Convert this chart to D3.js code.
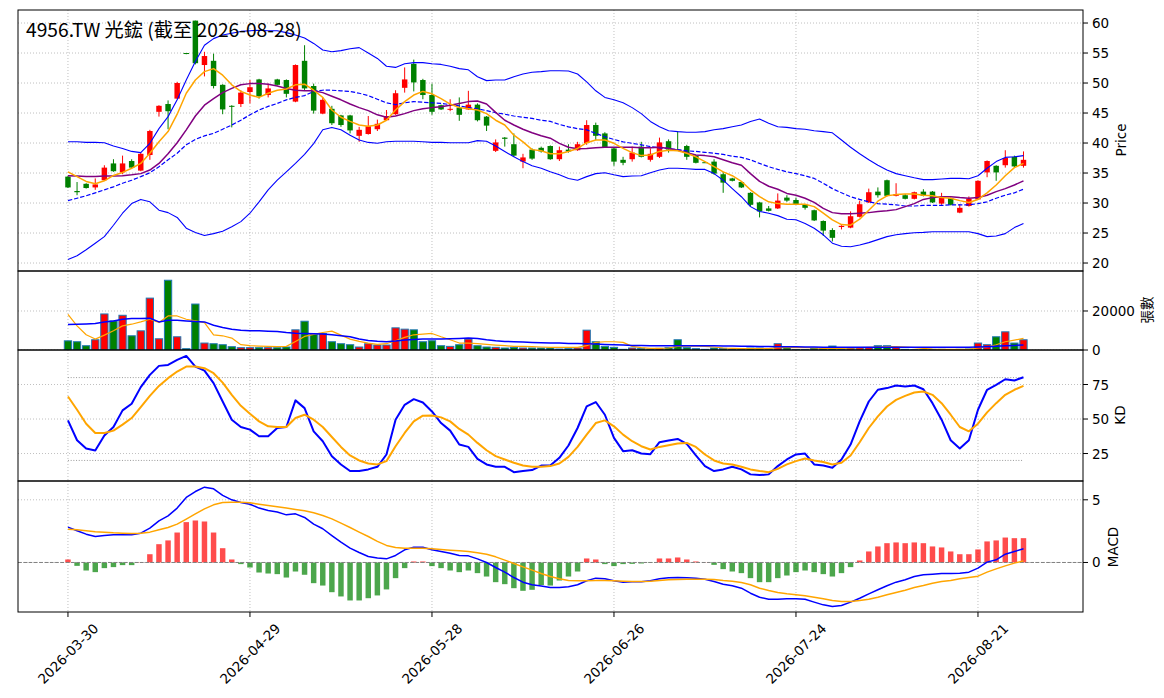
<!DOCTYPE html>
<html><head><meta charset="utf-8">
<script src="https://cdn.jsdelivr.net/npm/d3@7"></script>
<style>body{margin:0;background:#fff}svg{display:block}</style>
</head><body><svg id="c" width="1164" height="698"></svg>
<script>
// ---------------- data ----------------
const titleText = "4956.TW 光鋐 (截至 2026-08-28)";
const firstDay = "2026-03-30", lastDay = "2026-08-28";
const holidays = ["2026-04-03","2026-04-06","2026-05-01","2026-06-19"];
const tickLabels = ["2026-03-30","2026-04-29","2026-05-28","2026-06-26","2026-07-24","2026-08-21"];
const priceTicks = [20,25,30,35,40,45,50,55,60];
const volTicks = [0,20000];
const kdTicks = [25,50,75];
const macdTicks = [0,5];
const kdRefLevels = [20,80];

const openP = [34.4,32.0,33.2,32.6,33.8,36.6,35.1,37.0,35.4,38.0,
45.2,46.5,47.4,55.0,60.4,53.0,53.7,49.7,46.2,46.5,
48.5,50.6,48.0,50.6,50.5,46.9,53.7,49.5,44.9,45.7,
44.6,44.6,41.2,41.5,42.3,43.8,44.8,49.2,53.2,50.5,
48.0,46.3,45.6,45.9,45.6,46.4,44.4,38.7,40.9,39.8,
36.9,38.9,39.2,39.5,37.3,38.9,38.8,40.0,43.0,41.6,
39.1,37.2,37.3,39.4,37.2,37.7,40.3,38.9,39.5,37.9,
36.8,36.9,34.8,34.1,33.5,31.7,30.1,29.1,29.1,30.9,
30.5,29.7,28.8,27.0,25.5,26.0,25.9,27.7,30.1,31.9,
33.8,31.2,31.3,30.7,31.9,31.9,29.9,30.8,28.4,29.5,
30.6,35.1,36.2,36.3,37.7,36.2];
const highP = [34.5,33.5,33.3,34.1,36.3,37.3,37.9,37.3,38.4,42.2,
46.3,47.1,50.2,55.0,60.4,55.2,54.9,49.8,46.3,48.8,
50.5,50.7,49.9,50.7,50.6,53.1,56.3,49.9,47.6,46.2,
44.7,44.7,42.7,44.5,43.9,45.5,48.8,52.6,53.9,50.7,
49.9,46.4,47.3,47.6,48.7,46.6,44.5,40.6,41.0,41.6,
38.2,39.1,39.4,39.6,39.4,39.8,40.2,43.8,43.4,41.8,
39.2,37.7,39.4,40.2,39.1,40.9,40.6,42.0,39.7,38.0,
36.8,37.3,35.2,34.2,33.6,31.8,30.2,29.5,31.6,31.3,
30.9,29.8,28.9,27.1,25.8,26.3,28.6,30.4,32.4,32.6,
33.9,33.3,31.5,31.9,32.3,32.0,31.7,30.9,29.8,31.1,
33.8,37.1,36.3,38.8,37.9,38.6];
const lowP = [32.5,31.3,32.4,32.2,33.7,35.2,34.8,35.8,35.3,37.2,
44.4,42.3,47.3,54.8,53.1,51.1,49.1,44.8,42.6,46.0,
46.6,47.4,47.6,49.6,47.6,46.8,48.8,44.9,44.8,43.0,
42.7,41.6,40.2,41.4,42.0,43.7,44.7,48.4,48.6,47.3,
44.7,45.5,45.3,43.7,45.5,43.6,42.0,38.5,39.4,37.7,
35.8,37.2,38.4,37.2,37.0,38.4,38.7,39.7,40.5,39.2,
36.2,36.3,36.9,37.6,36.9,37.5,38.4,38.7,37.2,36.6,
36.7,34.7,31.7,33.6,32.5,29.4,27.6,28.6,29.0,30.2,
29.7,28.9,27.0,24.5,23.6,25.6,25.8,27.6,30.0,30.9,
31.1,31.1,30.6,30.6,31.1,30.0,29.7,29.6,28.3,29.4,
30.5,34.3,33.7,35.9,36.0,35.9];
const closeP = [32.6,31.8,32.5,33.1,35.9,35.3,36.6,35.9,38.2,42.0,
46.2,45.3,50.0,54.9,53.3,54.5,49.5,45.6,46.1,48.4,
49.3,47.8,49.1,49.7,48.2,53.0,49.1,45.4,47.2,43.3,
43.0,42.1,42.2,42.8,43.2,44.5,48.3,50.6,50.1,48.0,
45.2,45.6,45.7,44.7,46.4,43.8,42.9,40.1,40.7,37.9,
37.6,37.4,38.6,37.3,38.8,38.6,39.8,43.0,41.2,39.3,
36.9,36.7,38.4,37.7,38.2,40.1,38.9,38.8,37.7,36.7,
36.7,34.9,33.4,33.7,32.6,29.7,28.6,28.7,30.4,30.4,
29.8,29.2,27.1,25.4,24.2,26.2,27.8,29.8,31.8,31.3,
31.2,31.5,30.7,31.8,31.2,30.1,30.9,29.7,29.2,30.7,
33.7,37.0,35.1,37.5,36.1,37.2];
const ma5 = [35.2,34.4,33.6,33.2,33.7,34.6,35.1,35.8,36.6,38.3,
40.2,41.9,44.8,48.3,50.5,51.9,52.4,51.3,49.7,48.6,
48.0,47.6,48.3,48.8,49.0,49.7,49.8,48.8,47.6,45.5,
44.3,43.6,43.0,42.8,43.0,43.8,45.5,46.9,48.0,48.6,
48.2,47.4,46.5,45.9,45.7,45.5,44.9,43.8,43.0,41.3,
40.2,38.9,38.7,38.2,38.2,38.6,39.1,40.05,40.5,40.5,
39.95,39.1,38.4,37.9,38.0,38.6,38.8,38.7,38.3,37.7,
36.9,36.05,35.2,34.55,33.6,32.2,31.05,30.2,29.9,29.8,
29.8,29.8,29.4,28.3,27.2,26.4,26.3,27.3,28.8,30.3,
31.2,31.4,31.5,31.5,31.3,31.2,30.9,30.8,30.4,30.1,
30.6,31.7,33.0,34.55,35.9,36.6];
const ma10 = [34.55,34.5,34.4,34.4,34.5,34.5,34.55,34.7,34.9,35.5,
36.6,38.2,40.05,42.2,44.5,46.3,47.4,48.4,49.1,49.7,
49.9,49.9,49.8,49.5,49.1,48.8,48.7,48.7,48.4,47.8,
47.2,46.5,45.9,45.4,44.7,44.3,44.5,44.9,45.4,45.7,
45.9,46.05,46.3,46.6,46.9,47.0,46.5,45.1,43.8,43.0,
42.3,41.7,41.2,40.8,39.95,39.3,39.05,39.1,39.2,39.3,
39.3,39.3,39.3,39.2,39.2,39.3,39.1,38.8,38.4,38.0,
37.9,37.7,37.2,36.7,36.3,34.9,33.6,32.8,32.3,31.6,
31.3,30.8,30.1,29.1,28.4,28.2,28.2,28.3,28.4,28.6,
28.7,28.9,29.4,29.9,30.6,30.9,31.05,31.05,30.9,30.8,
30.9,31.3,31.9,32.4,33.0,33.7];
const ma20 = [30.4,30.8,31.2,31.7,32.2,32.7,33.3,33.8,34.4,35.05,
36.05,37.2,38.3,39.7,40.6,41.2,41.6,42.3,43.0,43.8,
44.7,45.5,46.1,46.6,47.2,47.6,47.9,48.6,48.8,48.8,
48.7,48.6,48.3,47.9,47.3,46.7,46.4,46.7,46.9,46.8,
46.7,46.6,46.4,46.2,45.9,45.7,45.4,45.05,44.8,44.5,
44.3,44.1,43.8,43.6,43.1,42.7,42.4,42.2,41.6,41.05,
40.6,40.2,39.95,39.7,39.4,39.2,39.1,38.9,38.7,38.6,
38.45,38.3,38.1,37.8,37.6,37.2,36.6,36.05,35.6,35.2,
34.9,34.55,34.1,33.3,32.4,31.7,31.05,30.6,30.2,29.9,
29.8,29.7,29.5,29.5,29.6,29.6,29.6,29.7,29.7,29.7,
29.9,30.2,30.8,31.3,31.7,32.3];
const bbUpper = [40.2,40.2,40.1,40.1,40.05,39.5,39.1,38.6,38.4,39.95,
42.4,44.4,47.2,50.5,53.6,56.3,57.4,58.0,58.3,58.6,
58.7,58.8,58.7,58.7,58.4,58.0,57.5,56.6,55.5,55.2,
55.4,55.7,55.9,55.0,54.1,52.8,52.6,53.2,53.4,53.4,
53.2,53.1,52.8,52.4,52.2,51.05,50.4,50.5,50.5,51.05,
51.5,51.8,51.9,52.05,52.05,52.0,51.5,50.2,48.7,47.6,
47.2,46.7,45.9,44.9,43.6,42.7,42.05,41.9,41.8,41.8,
41.9,42.2,42.4,42.7,43.0,43.6,44.0,43.3,42.7,42.6,
42.4,42.3,42.05,41.9,41.7,40.5,39.3,38.2,37.2,36.3,
35.5,34.9,34.55,34.2,33.9,33.9,34.0,34.1,34.1,34.05,
34.55,35.8,36.9,37.6,37.7,37.9];
const bbLower = [20.6,21.2,22.2,23.3,24.4,26.3,28.3,29.9,30.6,30.2,
28.8,28.4,27.6,25.8,25.1,24.6,24.9,25.3,26.05,26.9,
28.3,30.2,32.2,33.8,35.2,36.6,38.1,39.9,42.2,42.6,
42.2,41.3,40.5,40.1,39.95,40.2,40.3,40.3,40.3,40.2,
40.1,40.1,40.05,40.05,40.05,40.4,40.3,39.5,38.6,37.7,
36.9,36.2,35.8,35.2,34.7,34.1,33.8,34.4,34.9,35.05,
34.7,34.4,34.5,34.55,35.05,35.5,35.8,35.8,35.7,35.6,
35.6,34.9,33.8,32.4,31.05,29.4,28.6,28.3,27.9,27.3,
27.2,26.6,25.8,24.7,23.3,22.8,22.7,23.0,23.4,23.9,
24.4,24.7,24.9,25.05,25.1,25.2,25.2,25.2,25.2,25.2,
24.9,24.4,24.5,24.9,25.9,26.6];
const volume = [4700,4240,2200,5250,18480,14900,17800,7290,9830,26600,
5760,35760,6780,680,23560,3560,3220,2710,1700,1190,
1190,1190,1190,1190,1530,10340,14750,7970,8480,4240,
3220,2710,1530,3220,2540,2540,11360,10680,10340,4240,
4750,2200,1860,2710,5600,2200,1530,1360,1020,1360,
1020,1020,1020,1020,510,680,1020,10170,4240,1860,
1360,340,1020,850,510,850,1190,5250,1190,680,
340,1020,850,340,340,1020,1020,510,3220,1190,
170,170,1020,850,2030,510,1020,1190,1190,2200,
2200,1190,340,170,170,340,340,170,340,510,
3560,2710,6780,9320,3560,5250];
const volMa5 = [18300,12370,7800,5600,7630,9830,12370,13220,14400,15760,
14070,17460,17460,15760,14920,14070,7800,7290,6100,2710,
2200,2030,1860,1700,1860,4400,6950,7970,8980,9660,
7630,5600,4400,3560,2880,3220,4750,6440,7800,8140,
8480,6780,5250,3560,3560,3220,2880,2540,2200,1860,
1860,1700,1530,1360,1360,1360,1360,2200,3900,4240,
4240,3900,1860,1190,850,850,1020,1860,2030,2030,
1860,1530,1020,850,680,680,680,680,1190,1190,
1190,1190,1020,850,850,850,1020,1190,1360,1530,
1700,1700,1530,1190,850,510,340,300,300,340,
1020,1530,2710,4240,5090,5930];
const volMa20 = [13050,13220,13390,13560,14400,14920,15760,16100,16100,16270,
14400,15250,15250,14920,14580,14400,12710,11530,10680,10170,
9830,9830,9660,9490,8980,8640,8480,8300,8140,7800,
7290,6780,5600,4900,4500,4240,4580,5090,5420,5600,
5600,5600,5760,5930,6100,5930,5250,4750,4400,4240,
4070,3900,3730,3560,3560,3390,3390,3220,3050,2880,
2710,2540,2370,2370,2200,2200,2200,2200,2200,2200,
2200,2200,2100,2030,1950,1870,1800,1750,1700,1700,
1700,1600,1530,1450,1400,1360,1360,1360,1360,1360,
1360,1360,1360,1360,1360,1360,1360,1360,1360,1450,
1530,1700,1950,2200,2370,2540];
const kValues = [49.0,34.6,28.6,27.2,38.0,44.2,56.25,61.1,73.1,82.0,
88.5,89.2,92.8,95.7,88.0,85.1,76.0,62.7,49.5,44.2,
42.3,37.5,37.5,43.5,44.2,63.5,57.9,41.1,33.9,23.1,
17.1,12.3,12.3,13.5,15.4,24.3,49.5,60.3,64.4,62.0,
55.5,47.1,41.6,31.5,29.8,21.2,17.1,15.4,15.4,11.5,
12.3,13.0,16.3,16.3,21.9,30.8,43.5,59.1,62.3,53.1,
36.3,26.7,27.4,25.0,24.5,33.2,34.4,35.6,32.0,23.6,
15.9,12.3,13.5,15.4,13.5,9.9,9.4,9.9,15.9,20.7,
24.3,25.0,17.1,16.3,14.7,20.7,31.5,48.3,62.7,71.2,
72.4,74.3,73.6,74.3,71.6,61.5,49.5,34.6,28.6,34.6,
56.7,71.2,74.8,78.8,77.9,80.3];
const dValues = [66.3,56.7,46.6,39.9,39.9,41.6,45.9,50.7,58.7,66.8,
74.0,79.6,84.4,88.0,88.0,86.8,83.2,76.4,67.5,59.6,
53.8,48.3,44.7,44.2,44.2,50.7,53.1,49.5,44.2,37.0,
29.8,23.6,20.0,17.8,17.1,19.5,30.3,39.9,48.3,52.4,
52.6,51.2,48.3,42.8,38.7,32.7,27.4,23.1,20.7,18.3,
16.3,15.4,15.4,15.9,17.8,22.6,29.8,38.7,47.1,49.0,
44.7,38.7,33.9,30.3,27.9,29.8,31.0,32.2,32.7,29.8,
24.3,20.0,17.8,17.1,15.4,13.5,12.3,11.5,13.9,17.1,
19.5,21.4,20.0,18.8,17.1,18.3,23.6,33.2,43.5,51.9,
59.1,63.9,66.8,69.2,69.95,67.5,61.5,53.1,44.2,41.1,
46.6,54.8,61.5,67.5,71.2,74.0];
const dif = [2.82,2.53,2.26,2.07,2.15,2.21,2.21,2.21,2.34,2.74,
3.32,3.72,4.34,5.19,5.66,6.01,5.88,5.35,5.0,4.79,
4.65,4.34,4.15,4.02,3.80,3.88,3.59,3.06,2.69,2.15,
1.62,1.14,0.80,0.48,0.35,0.29,0.56,1.01,1.22,1.22,
1.01,0.88,0.74,0.56,0.53,0.29,0.0,-0.40,-0.77,-1.20,
-1.57,-1.78,-1.88,-1.99,-1.99,-1.94,-1.78,-1.46,-1.25,-1.30,
-1.46,-1.57,-1.54,-1.54,-1.46,-1.30,-1.22,-1.20,-1.22,-1.25,
-1.33,-1.52,-1.73,-1.86,-2.05,-2.45,-2.77,-2.93,-2.93,-2.90,
-2.90,-2.93,-3.16,-3.38,-3.51,-3.43,-3.16,-2.85,-2.50,-2.18,
-1.86,-1.57,-1.38,-1.12,-0.98,-0.93,-0.88,-0.88,-0.85,-0.77,
-0.45,0.03,0.21,0.66,0.88,1.09];
const dea = [2.66,2.61,2.53,2.45,2.42,2.37,2.34,2.31,2.34,2.42,
2.61,2.79,3.06,3.46,3.88,4.28,4.60,4.79,4.81,4.81,
4.76,4.65,4.55,4.44,4.34,4.23,4.12,3.96,3.75,3.48,
3.14,2.79,2.42,2.07,1.68,1.36,1.20,1.14,1.14,1.14,
1.09,1.04,0.98,0.93,0.88,0.77,0.66,0.45,0.19,-0.08,
-0.35,-0.61,-0.88,-1.12,-1.30,-1.44,-1.46,-1.46,-1.44,-1.44,
-1.46,-1.49,-1.52,-1.52,-1.49,-1.44,-1.38,-1.36,-1.33,-1.33,
-1.33,-1.36,-1.44,-1.49,-1.60,-1.78,-2.05,-2.23,-2.39,-2.50,
-2.58,-2.66,-2.77,-2.90,-3.03,-3.11,-3.11,-3.03,-2.93,-2.77,
-2.58,-2.39,-2.21,-1.99,-1.84,-1.65,-1.52,-1.44,-1.30,-1.20,
-1.09,-0.77,-0.51,-0.27,-0.05,0.13];
const hist = [0.24,-0.27,-0.64,-0.77,-0.45,-0.37,-0.21,-0.21,0.02,0.66,
1.46,1.76,2.39,3.22,3.35,3.27,2.39,1.14,0.24,-0.13,
-0.40,-0.80,-0.88,-0.93,-1.20,-0.72,-0.98,-1.65,-1.84,-2.37,
-2.71,-3.03,-3.03,-2.85,-2.63,-2.15,-1.25,-0.45,0.08,0.08,
-0.29,-0.45,-0.64,-0.77,-0.64,-0.85,-1.12,-1.57,-1.73,-2.05,
-2.26,-2.18,-1.80,-1.84,-1.44,-1.12,-0.72,0.32,0.24,-0.13,
-0.29,-0.13,-0.11,-0.08,-0.03,0.32,0.32,0.40,0.24,0.08,
0.01,-0.19,-0.53,-0.72,-0.85,-1.25,-1.57,-1.57,-1.25,-1.04,
-0.77,-0.64,-0.77,-0.93,-1.12,-0.85,-0.37,0.16,0.88,1.28,
1.54,1.60,1.54,1.60,1.54,1.28,1.20,0.88,0.66,0.66,
1.04,1.68,1.76,1.99,1.94,1.94];

// trading-day categories (weekdays minus market holidays)
function tradingDays(start, end, skip) {
  const out = []; const d = new Date(start + "T00:00:00Z"); const e = new Date(end + "T00:00:00Z");
  while (d <= e) { const wd = d.getUTCDay(); const s = d.toISOString().slice(0, 10);
    if (wd !== 0 && wd !== 6 && !skip.includes(s)) out.push(s); d.setUTCDate(d.getUTCDate() + 1); }
  return out;
}
const dates = tradingDays(firstDay, lastDay, holidays);

// ---------------- layout ----------------
const svg = d3.select("#c");
const L = 18, R = 1083;
const x = d3.scaleLinear().domain([-5.49, 111.54]).range([L, R]);
const step = x(1) - x(0);
const panels = {
  price: {top: 10, bottom: 271, domain: [18.67, 62.17], ticks: priceTicks},
  vol:   {top: 271, bottom: 350, domain: [0, 40500], ticks: volTicks},
  kd:    {top: 350, bottom: 481, domain: [5.1, 100], ticks: kdTicks},
  macd:  {top: 481, bottom: 612, domain: [-3.95, 6.5], ticks: macdTicks}
};
Object.values(panels).forEach(p => { p.y = d3.scaleLinear().domain(p.domain).range([p.bottom, p.top]); });
const tickIdx = tickLabels.map(t => dates.indexOf(t));
const FONT = "DejaVu Sans";
const CJK = "'Noto Sans CJK TC','Noto Sans CJK SC',sans-serif";
const RED = "#ff0000", GREEN = "#008000", BLUE = "#0000ff", ORANGE = "#ffa500", PURPLE = "#800080";
const up = i => closeP[i] > openP[i];

const defs = svg.append("defs");
Object.entries(panels).forEach(([k, p]) => {
  defs.append("clipPath").attr("id", "clip-" + k).append("rect")
    .attr("x", L).attr("y", p.top).attr("width", R - L).attr("height", p.bottom - p.top);
});

// grids
Object.entries(panels).forEach(([k, p]) => {
  const g = svg.append("g").attr("clip-path", `url(#clip-${k})`);
  p.ticks.forEach(t => g.append("line").attr("x1", L).attr("x2", R)
    .attr("y1", p.y(t)).attr("y2", p.y(t))
    .attr("stroke", "#b0b0b0").attr("stroke-width", 0.8).attr("stroke-dasharray", "1,2"));
  tickIdx.forEach(i => g.append("line").attr("x1", x(i)).attr("x2", x(i))
    .attr("y1", p.top).attr("y2", p.bottom)
    .attr("stroke", "#b0b0b0").attr("stroke-width", 0.8).attr("stroke-dasharray", "1,2"));
  p.g = svg.append("g").attr("clip-path", `url(#clip-${k})`);
});

function drawLine(p, data, color, width, dash) {
  const ln = d3.line().x((d, i) => x(i)).y(d => p.y(d));
  const path = p.g.append("path").datum(data).attr("d", ln).attr("fill", "none")
    .attr("stroke", color).attr("stroke-width", width).attr("stroke-linejoin", "round");
  if (dash) path.attr("stroke-dasharray", dash);
}

// ---- price panel ----
const P = panels.price;
const cg = P.g.append("g");
dates.forEach((d, i) => {
  const col = up(i) ? RED : GREEN;
  cg.append("line").attr("x1", x(i)).attr("x2", x(i)).attr("y1", P.y(highP[i])).attr("y2", P.y(lowP[i]))
    .attr("stroke", col).attr("stroke-width", 1);
  const yt = P.y(Math.max(openP[i], closeP[i])), yb = P.y(Math.min(openP[i], closeP[i]));
  cg.append("rect").attr("x", x(i) - step * 0.3).attr("width", step * 0.6)
    .attr("y", yt).attr("height", Math.max(1, yb - yt)).attr("fill", col);
});
drawLine(P, bbUpper, BLUE, 1.1);
drawLine(P, bbLower, BLUE, 1.1);
drawLine(P, ma20, BLUE, 1.2, "4.4,1.9");
drawLine(P, ma10, PURPLE, 1.5);
drawLine(P, ma5, ORANGE, 1.5);

// ---- volume panel ----
const V = panels.vol;
dates.forEach((d, i) => {
  V.g.append("rect").attr("x", x(i) - step * 0.4).attr("width", step * 0.8)
    .attr("y", V.y(volume[i])).attr("height", V.y(0) - V.y(volume[i]))
    .attr("fill", up(i) ? RED : GREEN).attr("stroke", "#1f77b4").attr("stroke-width", 1);
});
drawLine(V, volMa5, ORANGE, 1.2);
drawLine(V, volMa20, BLUE, 1.5);

// ---- KD panel ----
const K = panels.kd;
kdRefLevels.forEach(lv => K.g.append("line").attr("x1", x(0)).attr("x2", x(dates.length - 1))
  .attr("y1", K.y(lv)).attr("y2", K.y(lv)).attr("stroke", "#999").attr("stroke-width", 1).attr("stroke-dasharray", "1,1.7"));
drawLine(K, kValues, BLUE, 2);
drawLine(K, dValues, ORANGE, 2);

// ---- MACD panel ----
const M = panels.macd;
dates.forEach((d, i) => {
  const v = hist[i];
  M.g.append("rect").attr("x", x(i) - step * 0.3).attr("width", step * 0.6)
    .attr("y", M.y(Math.max(0, v))).attr("height", Math.abs(M.y(v) - M.y(0)))
    .attr("fill", v >= 0 ? RED : GREEN).attr("fill-opacity", 0.7);
});
M.g.append("line").attr("x1", L).attr("x2", R).attr("y1", M.y(0)).attr("y2", M.y(0))
  .attr("stroke", "#808080").attr("stroke-width", 1).attr("stroke-dasharray", "3.7,1.6");
drawLine(M, dif, BLUE, 1.5);
drawLine(M, dea, ORANGE, 1.5);

// frames and right-side y axes
const TF = 13.5;
Object.values(panels).forEach(p => {
  svg.append("rect").attr("x", L).attr("y", p.top).attr("width", R - L).attr("height", p.bottom - p.top)
    .attr("fill", "none").attr("stroke", "#000").attr("stroke-width", 1);
  p.ticks.forEach(t => {
    svg.append("line").attr("x1", R).attr("x2", R + 5).attr("y1", p.y(t)).attr("y2", p.y(t))
      .attr("stroke", "#000").attr("stroke-width", 1);
    svg.append("text").attr("x", R + 9).attr("y", p.y(t)).attr("dominant-baseline", "central")
      .attr("font-family", FONT).attr("font-size", TF).attr("fill", "#000").text(t);
  });
});
const ylabels = [
  {t: "Price", x: 1121, y: 140, f: FONT},
  {t: "張數", x: 1146, y: 310, f: CJK},
  {t: "KD", x: 1120, y: 415, f: FONT},
  {t: "MACD", x: 1113, y: 547, f: FONT}
];
ylabels.forEach(l => svg.append("text").attr("transform", `translate(${l.x},${l.y}) rotate(-90)`)
  .attr("text-anchor", "middle").attr("dominant-baseline", "central")
  .attr("font-family", l.f).attr("font-size", TF).attr("fill", "#000").text(l.t));

// x ticks
tickIdx.forEach((i, k) => {
  svg.append("line").attr("x1", x(i)).attr("x2", x(i)).attr("y1", 612).attr("y2", 617)
    .attr("stroke", "#000").attr("stroke-width", 1);
  const t = svg.append("text").attr("font-family", FONT).attr("font-size", TF)
    .attr("text-anchor", "middle").attr("dominant-baseline", "central").text(tickLabels[k]);
  const len = t.node().getComputedTextLength();
  const h = (len + TF) * Math.SQRT1_2;
  t.attr("transform", `translate(${x(i)},${621 + h / 2}) rotate(-45)`);
});

// title
const title = svg.append("text").attr("x", 26).attr("y", 37).attr("font-family", CJK)
  .attr("font-size", 19).attr("fill", "#000").text(titleText);
const tw = title.node().getComputedTextLength();
title.attr("font-size", 19 * 276 / tw);
</script></body></html>
